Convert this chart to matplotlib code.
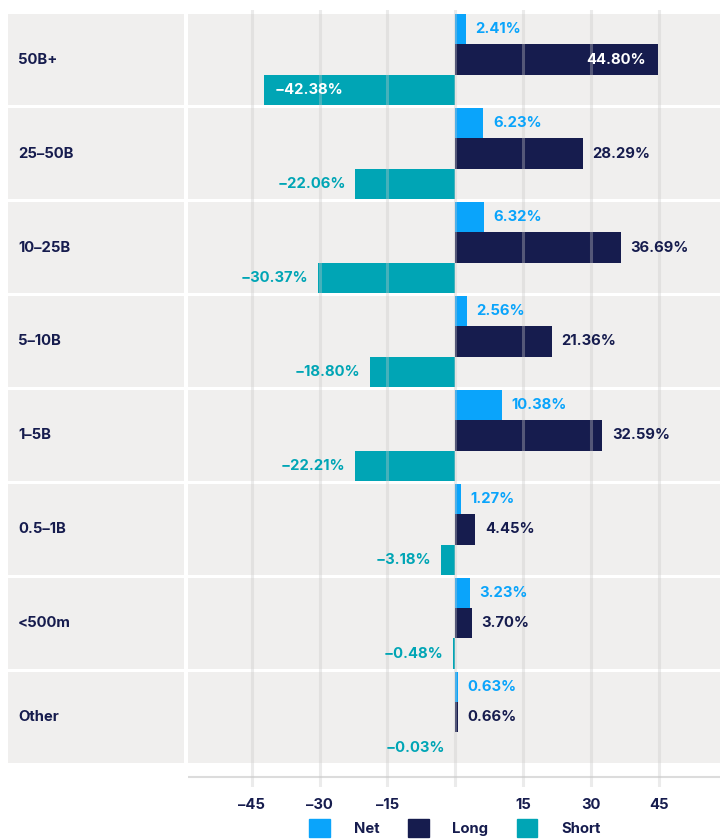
import numpy as np
import matplotlib
matplotlib.use("Agg")
import matplotlib.pyplot as plt
import matplotlib.transforms as mtransforms
from matplotlib.patches import Patch, Rectangle

# --- data ---
categories = ["50B+", "25-50B", "10-25B", "5-10B", "1-5B", "0.5-1B", "<500m", "Other"]
net_values = [2.41, 6.23, 6.32, 2.56, 10.38, 1.27, 3.23, 0.63]
long_values = [44.80, 28.29, 36.69, 21.36, 32.59, 4.45, 3.70, 0.66]
short_values = [-42.38, -22.06, -30.37, -18.80, -22.21, -3.18, -0.48, -0.03]
tick_values = [-45, -30, -15, 15, 30, 45]
grid_values = [-45, -30, -15, 0, 15, 30, 45]

# --- style ---
NET_C = "#0aa4fb"
LONG_C = "#161c4e"
SHORT_C = "#00a5b5"
BAND_C = "#f0efee"
GRID_C = "#c8c8c8"
FS = 10.7
plt.rcParams["font.family"] = ["Inter", "DejaVu Sans"]
plt.rcParams["font.weight"] = "bold"

W, H = 720, 839
fig = plt.figure(figsize=(W / 100, H / 100), dpi=100)

# axes covers the plot column, from top of gridlines to their bottom
ax_l, ax_r, ax_t, ax_b = 188, 720, 10, 787
ax = fig.add_axes([ax_l / W, 1 - ax_b / H, (ax_r - ax_l) / W, (ax_b - ax_t) / H])
ax.set_xlim(-59.1, 58.6)
ax.set_ylim(7.74, -0.527)
for s in ax.spines.values():
    s.set_visible(False)

n = len(categories)
y = np.arange(n)
bh = 0.32
band_h = 0.968

# bands in the plot column and in the label column
trans = mtransforms.blended_transform_factory(fig.transFigure, ax.transData)
for i in range(n):
    ax.axhspan(i - band_h / 2, i + band_h / 2, color=BAND_C, lw=0, zorder=0)
    fig.patches.append(Rectangle((8 / W, i - band_h / 2), (184 - 8) / W, band_h,
                                 transform=trans, color=BAND_C, lw=0, zorder=0))
    fig.text(18 / W, i, categories[i].replace("-", "\u2013"), transform=trans,
             ha="left", va="center", fontsize=FS, color=LONG_C, fontweight="bold")

ax.barh(y - bh, net_values, height=bh, color=NET_C, zorder=2)
ax.barh(y, long_values, height=bh, color=LONG_C, zorder=2)
ax.barh(y + bh, short_values, height=bh, color=SHORT_C, zorder=2)

# gridlines over the bars
for g in grid_values:
    ax.axvline(g, color=GRID_C, lw=2.2, alpha=0.35, zorder=3)
ax.axhline(7.63, color="#dcdcdc", lw=1.5, zorder=1)

def fmt(v):
    return f"{v:.2f}%".replace("-", "\u2212")

for i in range(n):
    ax.annotate(fmt(net_values[i]), (net_values[i], i - bh), xytext=(7, 0),
                textcoords="offset points", ha="left", va="center",
                fontsize=FS, color=NET_C, zorder=4)
    lv = long_values[i]
    if lv > 40:
        ax.annotate(fmt(lv), (lv, i), xytext=(-8.5, 0), textcoords="offset points",
                    ha="right", va="center", fontsize=FS, color="white", zorder=4)
    else:
        ax.annotate(fmt(lv), (lv, i), xytext=(7, 0), textcoords="offset points",
                    ha="left", va="center", fontsize=FS, color=LONG_C, zorder=4)
    sv = short_values[i]
    if sv < -40:
        ax.annotate(fmt(sv), (sv, i + bh), xytext=(8, 0), textcoords="offset points",
                    ha="left", va="center", fontsize=FS, color="white", zorder=4)
    else:
        ax.annotate(fmt(sv), (sv, i + bh), xytext=(-7, 0), textcoords="offset points",
                    ha="right", va="center", fontsize=FS, color=SHORT_C, zorder=4)

ax.set_yticks([])
ax.set_xticks(tick_values)
ax.set_xticklabels([str(t).replace("-", "\u2013") for t in tick_values])
ax.tick_params(axis="x", length=0, pad=8, labelsize=FS, labelcolor=LONG_C)

handles = [Patch(color=NET_C, label="Net"), Patch(color=LONG_C, label="Long"),
           Patch(color=SHORT_C, label="Short")]
fig.legend(handles=handles, loc="upper center", bbox_to_anchor=(455 / W, 1 - 812 / H),
           ncol=3, frameon=False, fontsize=FS, handlelength=1.4, handleheight=1.4,
           handletextpad=1.6, columnspacing=1.9, borderpad=0, labelcolor=LONG_C)

fig.savefig("out.png", dpi=100)
